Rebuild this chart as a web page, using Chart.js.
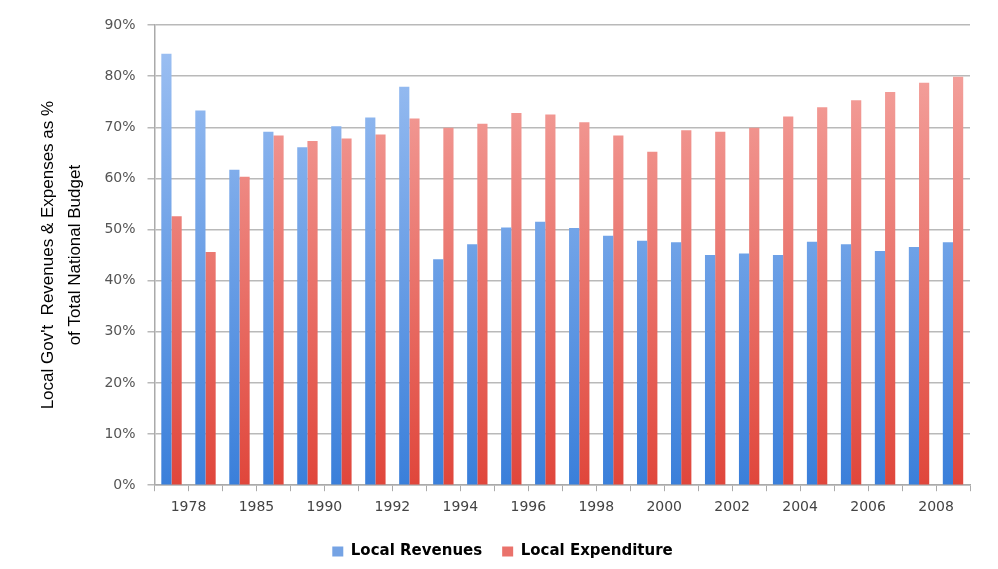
<!DOCTYPE html>
<html>
<head>
<meta charset="utf-8">
<script src="https://cdn.jsdelivr.net/npm/chart.js@4"></script>
<style>
  html, body { margin: 0; padding: 0; background: #fff; }
  #wrap { width: 998px; height: 569px; }
</style>
</head>
<body>
<div id="wrap"><canvas id="budgetChart" width="998" height="569"></canvas></div>
<script>
// years on the category axis (only every other one gets a label)
const years = ['1978', '1980', '1985', '1989', '1990', '1991', '1992', '1993',
    '1994', '1995', '1996', '1997', '1998', '1999', '2000', '2001',
    '2002', '2003', '2004', '2005', '2006', '2007', '2008', '2009'];

const localRevenues = [84.4, 73.3, 61.7, 69.1, 66.1, 70.2, 71.9, 77.9,
    44.2, 47.1, 50.4, 51.5, 50.3, 48.8, 47.8, 47.5,
    45.0, 45.3, 45.0, 47.6, 47.1, 45.8, 46.6, 47.5];

const localExpenditure = [52.6, 45.6, 60.3, 68.4, 67.3, 67.8, 68.6, 71.7,
    69.9, 70.7, 72.8, 72.5, 71.0, 68.4, 65.2, 69.4,
    69.1, 69.9, 72.1, 73.9, 75.3, 76.9, 78.7, 79.9];

const yTicks = [0, 10, 20, 30, 40, 50, 60, 70, 80, 90];

// vertical gradient over the plot area, light on top and darker at the base
function fade(top, bottom) {
    return function (c) {
        const area = c.chart.chartArea;
        if (!area) return bottom;
        const g = c.chart.ctx.createLinearGradient(0, area.top, 0, area.bottom);
        g.addColorStop(0, top);
        g.addColorStop(1, bottom);
        return g;
    };
}

const ctx = document.getElementById('budgetChart').getContext('2d');
const budgetChart = new Chart(ctx, {
    type: 'bar',
    data: {
        labels: years,
        datasets: [{
            label: 'Local Revenues',
            data: localRevenues,
            backgroundColor: fade('#a0c2f3', '#3a7fda'),
            borderWidth: 0,
            categoryPercentage: 0.6,
            barPercentage: 1.0
        }, {
            label: 'Local Expenditure',
            data: localExpenditure,
            backgroundColor: fade('#f5aaa6', '#e0463b'),
            borderWidth: 0,
            categoryPercentage: 0.6,
            barPercentage: 1.0
        }]
    },
    options: {
        responsive: false,
        animation: false,
        layout: {
            padding: { left: 35, right: 28, top: 25, bottom: 0 }
        },
        plugins: {
            legend: {
                position: 'bottom',
                labels: {
                    boxWidth: 11,
                    boxHeight: 10,
                    padding: 20,
                    color: '#222',
                    font: { family: 'DejaVu Sans', size: 15, weight: 'bold' },
                    generateLabels: function (chart) {
                        const cols = ['#75a3e4', '#ea726b'];
                        return chart.data.datasets.map((ds, i) => ({
                            text: ds.label,
                            fillStyle: cols[i],
                            strokeStyle: cols[i],
                            lineWidth: 0,
                            datasetIndex: i
                        }));
                    }
                }
            },
            tooltip: { enabled: false }
        },
        scales: {
            x: {
                grid: {
                    drawOnChartArea: false,
                    drawTicks: true,
                    tickLength: 6,
                    color: '#aaa'
                },
                border: { color: '#aaa', width: 1.5 },
                ticks: {
                    autoSkip: false,
                    maxRotation: 0,
                    labelOffset: 17,
                    padding: 8,
                    color: '#444',
                    font: { family: 'DejaVu Sans', size: 14 },
                    callback: function (v, i) {
                        return i % 2 === 0 ? years[i] : '';
                    }
                }
            },
            y: {
                min: 0,
                max: 90,
                afterBuildTicks: function (axis) {
                    axis.ticks = yTicks.map(v => ({ value: v }));
                },
                grid: {
                    color: '#b9b9b9',
                    lineWidth: 1.5,
                    tickLength: 7
                },
                border: { color: '#aaa', width: 1.5 },
                ticks: {
                    padding: 12,
                    color: '#555',
                    font: { family: 'DejaVu Sans', size: 14 },
                    callback: v => v + '%'
                },
                title: {
                    display: true,
                    text: ["Local Gov't  Revenues & Expenses as %", 'of Total National Budget'],
                    color: '#000',
                    padding: { top: 0, bottom: 3 },
                    font: { family: "'Liberation Sans Narrow', 'Arial Narrow', sans-serif", size: 17, lineHeight: 1.6 }
                }
            }
        }
    }
});
</script>
</body>
</html>
